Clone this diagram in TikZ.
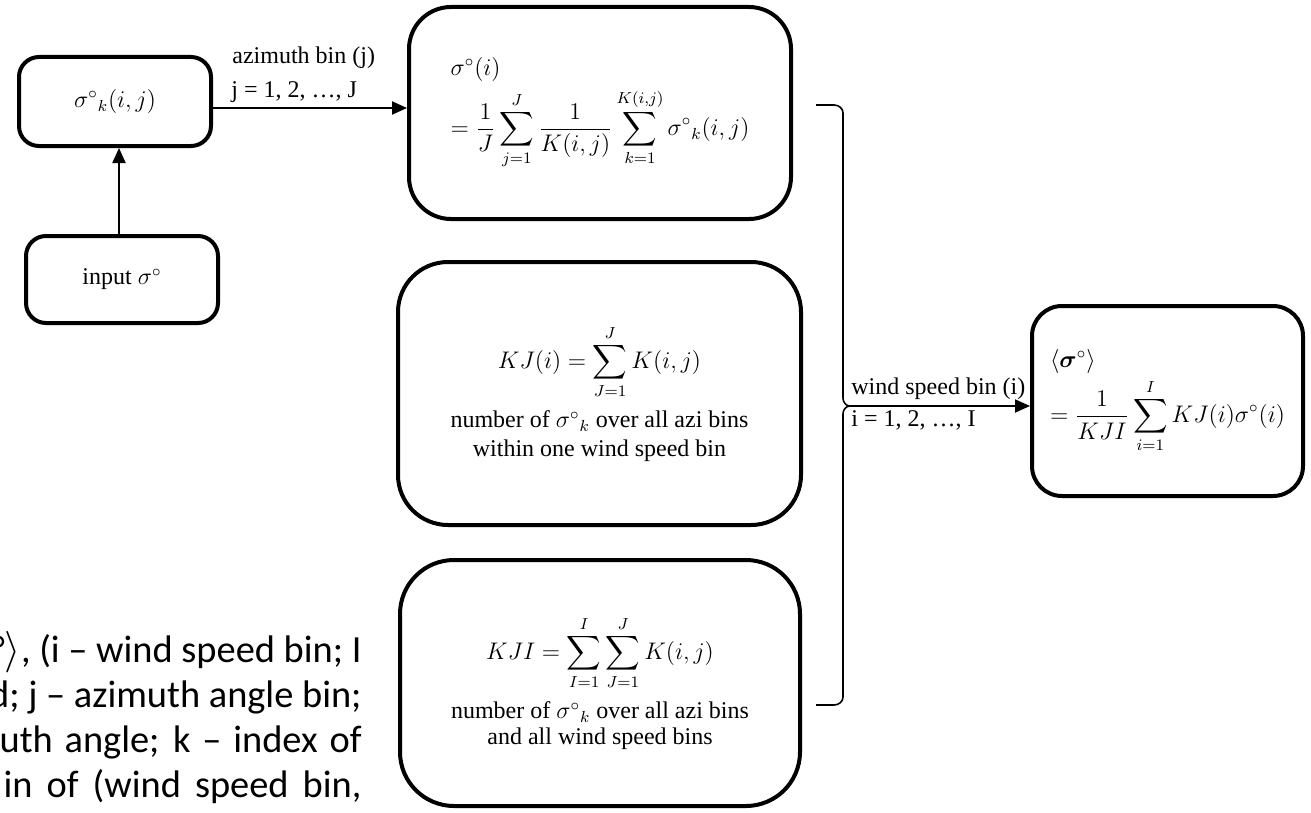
\documentclass[tikz,border=0pt]{standalone}
\usepackage{amsmath}
\usepackage{fontspec}
\setmainfont{Liberation Serif}
\newfontfamily\parafont{Carlito}
\usetikzlibrary{arrows.meta,calc}
\tikzset{
  box/.style={draw=black, line width=2pt, fill=white, inner sep=0pt, align=center,
    font=\fontsize{12}{14.5}\selectfont},
  arr/.style={line width=1pt, -{Triangle[length=7.5pt,width=6.5pt]}},
  lbl/.style={inner sep=0pt, anchor=west, font=\fontsize{12}{14}\selectfont},
  para/.style={inner sep=0pt, anchor=east, font=\parafont\fontsize{19.2}{23}\selectfont},
  bracestyle/.style={line width=0.8pt}
}
\begin{document}
\begin{tikzpicture}[x=0.5pt,y=-0.5pt]
\useasboundingbox[fill=white] (0,0) rectangle (1311,813);

% boxes
\node[box, rounded corners=10pt, minimum width=96pt, minimum height=44.5pt] (A) at (115,101.5)
  {$\sigma^\circ{}_k(i,j)$};
\node[box, rounded corners=10pt, minimum width=96pt, minimum height=43.5pt] (B) at (122,279.5)
  {input $\sigma^\circ$};
\node[box, rounded corners=21pt, minimum width=191pt, minimum height=106pt, align=left] (C) at (600,113)
  {$\sigma^\circ(i)$\\[3pt]
   $\displaystyle =\frac{1}{J}\sum_{j=1}^{J}\frac{1}{K(i,j)}\sum_{k=1}^{K(i,j)}\sigma^\circ{}_k(i,j)$};
\node[box, rounded corners=25pt, minimum width=201.5pt, minimum height=131.5pt] (D) at (599.5,393.5)
  {$\displaystyle KJ(i)=\sum_{J=1}^{J}K(i,j)$\\[5pt]
   number of $\sigma^\circ{}_k$ over all azi bins\\
   within one wind speed bin};
\node[box, rounded corners=27pt, minimum width=200pt, minimum height=123pt] (E) at (600,683)
  {$\displaystyle KJI=\sum_{I=1}^{I}\sum_{J=1}^{J}K(i,j)$\\[5pt]
   number of $\sigma^\circ{}_k$ over all azi bins\\[-1.5pt]
   and all wind speed bins};
\node[box, rounded corners=15pt, minimum width=135.5pt, minimum height=95pt, align=left] (F) at (1167.5,401)
  {$\langle\boldsymbol{\sigma}^\circ\rangle$\\[2pt]
   $\displaystyle =\frac{1}{KJI}\sum_{i=1}^{I}KJ(i)\sigma^\circ(i)$};

% connectors
\draw[arr] ($(B.north)+(-3,0)$) -- ($(A.south)+(4,0)$);
\coordinate (aout) at ($(A.east)+(0,6.5)$);
\draw[arr] (aout) -- (aout -| C.west);
\node[lbl] (lj1) at (232,58) {azimuth bin (j)};
\node[lbl] (lj2) at (231,92) {j = 1, 2, …, J};

% brace
\coordinate (btop) at (816,105);
\coordinate (bbot) at (816,705);
\coordinate (btip) at (850,406);
\draw[bracestyle] (btop) -- (834,105) to[out=0,in=90] (843,113) -- (843,398)
  to[out=-90,in=180] (btip) to[out=180,in=90] (843,414) -- (843,697)
  to[out=-90,in=0] (834,705) -- (bbot);
\draw[arr] (btip) -- (btip -| F.west);
\node[lbl] (li1) at (851,389) {wind speed bin (i)};
\node[lbl] (li2) at (851,420) {i = 1, 2, …, I};

% clipped paragraph at left
\node[para] (p1) at (362,652) {°$\rangle$, (i – wind speed bin; I};
\node[para] (p2) at (362,697) {d; j – azimuth angle bin;};
\node[para] (p3) at (362,742) {\makebox[181pt][s]{uth angle; k – index of}};
\node[para] (p4) at (362,787) {\makebox[179pt][s]{in of (wind speed bin,}};
\end{tikzpicture}
\end{document}
